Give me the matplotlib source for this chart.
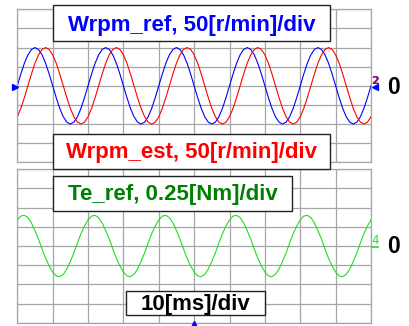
import numpy as np
import matplotlib.pyplot as plt
from matplotlib.patches import Rectangle

# time base: 1 ms samples over 10 divisions of 10 ms
t_ms = np.arange(0, 101)

# Wrpm_ref [r/min]
wrpm_ref = [0, 31, 59, 81, 95, 100, 95, 81, 59, 31, 0, -31, -59, -81, -95, -100, -95, -81, -59, -31,
            0, 31, 59, 81, 95, 100, 95, 81, 59, 31, 0, -31, -59, -81, -95, -100, -95, -81, -59, -31,
            0, 31, 59, 81, 95, 100, 95, 81, 59, 31, 0, -31, -59, -81, -95, -100, -95, -81, -59, -31,
            0, 31, 59, 81, 95, 100, 95, 81, 59, 31, 0, -31, -59, -81, -95, -100, -95, -81, -59, -31,
            0, 31, 59, 81, 95, 100, 95, 81, 59, 31, 0, -31, -59, -81, -95, -100, -95, -81, -59, -31,
            0]

# Wrpm_est [r/min]
wrpm_est = [-81, -59, -31, 0, 31, 59, 81, 95, 100, 95, 81, 59, 31, 0, -31, -59, -81, -95, -100, -95,
            -81, -59, -31, 0, 31, 59, 81, 95, 100, 95, 81, 59, 31, 0, -31, -59, -81, -95, -100, -95,
            -81, -59, -31, 0, 31, 59, 81, 95, 100, 95, 81, 59, 31, 0, -31, -59, -81, -95, -100, -95,
            -81, -59, -31, 0, 31, 59, 81, 95, 100, 95, 81, 59, 31, 0, -31, -59, -81, -95, -100, -95,
            -81, -59, -31, 0, 31, 59, 81, 95, 100, 95, 81, 59, 31, 0, -31, -59, -81, -95, -100, -95,
            -81]

# Te_ref [Nm]
te_ref = [0.34, 0.39, 0.40, 0.37, 0.30, 0.20, 0.09, -0.04, -0.16, -0.26,
          -0.34, -0.39, -0.40, -0.37, -0.30, -0.20, -0.09, 0.04, 0.16, 0.26,
          0.34, 0.39, 0.40, 0.37, 0.30, 0.20, 0.09, -0.04, -0.16, -0.26,
          -0.34, -0.39, -0.40, -0.37, -0.30, -0.20, -0.09, 0.04, 0.16, 0.26,
          0.34, 0.39, 0.40, 0.37, 0.30, 0.20, 0.09, -0.04, -0.16, -0.26,
          -0.34, -0.39, -0.40, -0.37, -0.30, -0.20, -0.09, 0.04, 0.16, 0.26,
          0.34, 0.39, 0.40, 0.37, 0.30, 0.20, 0.09, -0.04, -0.16, -0.26,
          -0.34, -0.39, -0.40, -0.37, -0.30, -0.20, -0.09, 0.04, 0.16, 0.26,
          0.34, 0.39, 0.40, 0.37, 0.30, 0.20, 0.09, -0.04, -0.16, -0.26,
          -0.34, -0.39, -0.40, -0.37, -0.30, -0.20, -0.09, 0.04, 0.16, 0.26,
          0.34]

W, H = 409, 326
fig = plt.figure(figsize=(W / 100, H / 100), dpi=100)
fig.patch.set_facecolor('white')

gridc = '#a6a6a6'


def scope_axes(top, bottom, vdiv):
    ax = fig.add_axes([17.3 / W, 1 - bottom / H, (371 - 17.3) / W, (bottom - top) / H])
    ax.set_xlim(0, 100)
    ax.set_ylim(-4 * vdiv, 4 * vdiv)
    ax.set_xticks(np.arange(0, 101, 10))
    ax.set_yticks(np.arange(-4, 5) * vdiv)
    ax.grid(True, color=gridc, lw=0.9)
    ax.tick_params(length=0, labelbottom=False, labelleft=False)
    for s in ax.spines.values():
        s.set_color(gridc)
        s.set_linewidth(0.9)
    return ax


ax1 = scope_axes(9.3, 162.3, 50)
ax1.plot(t_ms, wrpm_ref, color='#0000ff', lw=0.8)
ax1.plot(t_ms, wrpm_est, color='#ff0000', lw=0.8)

ax2 = scope_axes(169.3, 322.7, 0.25)
ax2.plot(t_ms, te_ref, color='#22dd22', lw=0.8)

# overlay in pixel units for the labels
ov = fig.add_axes([0, 0, 1, 1], facecolor='none')
ov.set_xlim(0, W)
ov.set_ylim(H, 0)
ov.axis('off')

font = ['Liberation Sans', 'DejaVu Sans']
boxes = [
    (53.3, 5.0, 330.0, 40.7, 'Wrpm_ref, 50[r/min]/div', '#0000ff', 30.7),
    (53.3, 134.3, 330.0, 169.3, 'Wrpm_est, 50[r/min]/div', '#ff0000', 158.3),
    (53.3, 176.0, 292.3, 211.0, 'Te_ref, 0.25[Nm]/div', '#008000', 200.0),
    (125.7, 290.7, 265.0, 315.0, '10[ms]/div', 'black', 310.0),
]
for x0, y0, x1, y1, s, c, yb in boxes:
    ov.add_patch(Rectangle((x0, y0), x1 - x0, y1 - y0, facecolor='white',
                           edgecolor='#222222', lw=1.0, zorder=3))
    ov.text((x0 + x1) / 2, yb, s, color=c, fontsize=16, fontweight='bold',
            family=font, ha='center', va='baseline', zorder=4)

# zero level labels
ov.text(394, 87, '0', fontsize=16.5, fontweight='bold', family=font,
        ha='center', va='center', color='black')
ov.text(394, 246.7, '0', fontsize=16.5, fontweight='bold', family=font,
        ha='center', va='center', color='black')

# channel markers
ov.plot([14.5], [86.7], marker='>', color='#0000ff', ms=5, zorder=5)
ov.plot([375], [86.7], marker='<', color='#0000ff', ms=4, zorder=5)
ov.text(374.5, 84, '2', fontsize=8, fontweight='bold', color='#0000ff',
        ha='center', va='baseline', zorder=5)
ov.text(375.5, 84, '2', fontsize=8, fontweight='bold', color='#ff0000', alpha=0.6,
        ha='center', va='baseline', zorder=5)
ov.text(375, 243.5, '4', fontsize=8.5, color='#22dd22',
        ha='center', va='baseline', zorder=5)
ov.plot([372, 378], [246.7, 246.7], color='#22dd22', lw=1.2, zorder=5)
ov.plot([193.5], [324], marker='^', color='#0000ff', ms=5, zorder=5, clip_on=False)

fig.savefig('out.png', dpi=100)
